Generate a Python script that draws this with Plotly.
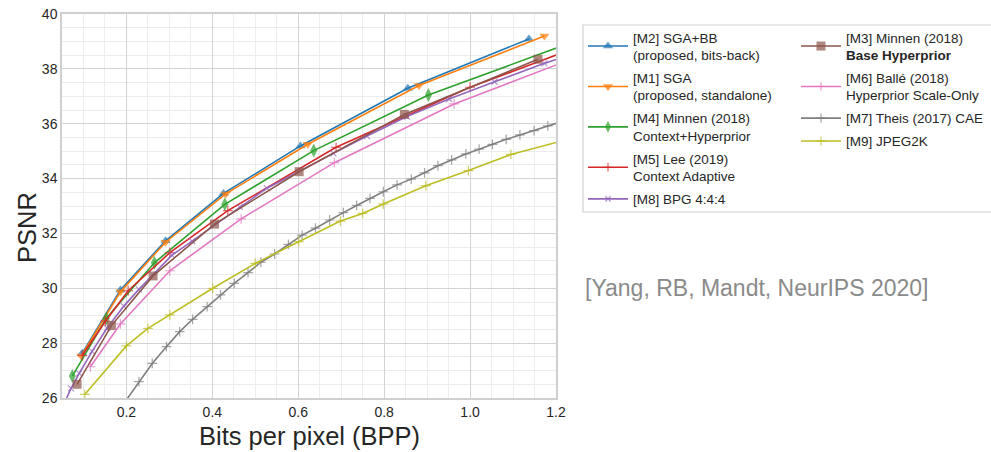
import plotly.graph_objects as go

# ---------------- data ----------------
m2_x = [0.097, 0.186, 0.291, 0.426, 0.605, 0.855, 1.137]
m2_y = [27.63, 29.94, 31.73, 33.46, 35.19, 37.29, 39.09]

m1_x = [0.095, 0.186, 0.291, 0.431, 0.622, 0.881, 1.173]
m1_y = [27.53, 29.87, 31.68, 33.44, 35.25, 37.39, 39.20]

m4_x = [0.074, 0.153, 0.265, 0.429, 0.636, 0.903, 1.25]
m4_y = [26.80, 28.90, 30.93, 33.06, 35.02, 37.05, 39.04]

m5_x = [0.097, 0.151, 0.204, 0.301, 0.436, 0.688, 1.000, 1.25]
m5_y = [27.55, 28.80, 29.91, 31.30, 32.83, 35.14, 37.33, 38.79]

m8_x = [0.055, 0.071, 0.090, 0.120, 0.155, 0.194, 0.229, 0.306, 0.353, 0.464,
        0.527, 0.682, 0.760, 0.853, 0.951, 1.057, 1.173, 1.25]
m8_y = [25.80, 26.35, 26.90, 27.70, 28.55, 29.35, 29.96, 31.21, 31.72, 32.97,
        33.65, 34.92, 35.55, 36.26, 36.90, 37.53, 38.20, 38.60]

m3_x = [0.085, 0.165, 0.262, 0.405, 0.602, 0.847, 1.158]
m3_y = [26.50, 28.64, 30.45, 32.34, 34.25, 36.34, 38.35]

m6_x = [0.116, 0.186, 0.301, 0.467, 0.684, 0.963, 1.25]
m6_y = [27.14, 28.70, 30.64, 32.53, 34.58, 36.72, 38.44]

m7_x = [0.185, 0.229, 0.260, 0.293, 0.324, 0.354, 0.388, 0.419, 0.451, 0.483,
        0.513, 0.545, 0.577, 0.609, 0.640, 0.673, 0.705, 0.736, 0.767, 0.798,
        0.830, 0.863, 0.894, 0.925, 0.957, 0.990, 1.021, 1.052, 1.084, 1.116,
        1.149, 1.181, 1.213]
m7_y = [25.60, 26.60, 27.26, 27.87, 28.42, 28.87, 29.33, 29.76, 30.18, 30.57,
        30.95, 31.25, 31.60, 31.94, 32.19, 32.49, 32.76, 33.02, 33.28, 33.52,
        33.77, 33.98, 34.21, 34.47, 34.68, 34.90, 35.07, 35.25, 35.43, 35.59,
        35.75, 35.92, 36.08]

m9_x = [0.103, 0.200, 0.250, 0.301, 0.401, 0.500, 0.601, 0.698, 0.750, 0.798,
        0.897, 0.996, 1.095, 1.25]
m9_y = [26.13, 27.90, 28.54, 29.03, 30.00, 30.91, 31.70, 32.45, 32.73, 33.07,
        33.74, 34.29, 34.88, 35.52]

x_ticks = [0.2, 0.4, 0.6, 0.8, 1.0, 1.2]
x_tick_labels = ["0.2", "0.4", "0.6", "0.8", "1.0", "1.2"]
y_ticks = [26, 28, 30, 32, 34, 36, 38, 40]

FONT = "Liberation Sans"
W, H = 991, 452
ML, MR, MT, MB = 62, 435, 14, 54
PW, PH = W - ML - MR, H - MT - MB


def px_x(p):
    return (p - ML) / PW


def px_y(p):
    return (H - MB - p) / PH


def cx(p):
    return p / W


def cy(p):
    return 1 - p / H


fig = go.Figure()


def sizes(n, s, hide_first=False, hide_last=False):
    arr = [s] * n
    if hide_first:
        arr[0] = 0
    if hide_last:
        arr[-1] = 0
    return arr


def add(x, y, name, color, symbol, size, legend, hf=False, hl=False, lw=None):
    mk = dict(symbol=symbol, size=sizes(len(x), size, hf, hl), color=color)
    if symbol.endswith("thin"):
        mk["line"] = dict(color=color, width=lw or 1.2)
    else:
        mk["line"] = dict(width=0)
    fig.add_trace(go.Scatter(
        x=x, y=y, name=name, mode="lines+markers", legend=legend,
        legendgroup=name,
        line=dict(color=color, width=1.6), marker=mk))


# column 1 legend
add(m2_x, m2_y, "[M2] SGA+BB<br>(proposed, bits-back)", "#1f77b4", "triangle-up", 9, "legend")
add(m1_x, m1_y, "[M1] SGA<br>(proposed, standalone)", "#ff7f0e", "triangle-down", 9, "legend")
add(m4_x, m4_y, "[M4] Minnen (2018)<br>Context+Hyperprior", "#2ca02c", "diamond-tall", 10, "legend", hl=True)
add(m5_x, m5_y, "[M5] Lee (2019)<br>Context Adaptive", "#d62728", "cross-thin", 7, "legend", hl=True)
add(m8_x, m8_y, "[M8] BPG 4:4:4", "#9467bd", "x-thin", 6, "legend", hf=True, hl=True)
# column 2 legend
add(m3_x, m3_y, "[M3] Minnen (2018)<br><b>Base Hyperprior</b>", "#8c564b", "square", 9, "legend2")
add(m6_x, m6_y, "[M6] Ballé (2018)<br>Hyperprior Scale-Only", "#e377c2", "cross-thin", 7, "legend2", hl=True)
add(m7_x, m7_y, "[M7] Theis (2017) CAE", "#7f7f7f", "cross-thin", 7, "legend2", hf=True, hl=True)
add(m9_x, m9_y, "[M9] JPEG2K", "#bcbd22", "cross-thin", 7, "legend2", hl=True)

axis_common = dict(
    showgrid=True, gridcolor="#d3d3d3", gridwidth=1,
    showline=True, mirror=True, linecolor="#cfcfcf", linewidth=1.5,
    ticks="", zeroline=False,
    tickfont=dict(family=FONT, size=14, color="#262626"),
)

fig.update_xaxes(range=[0.05, 1.2], tickvals=x_ticks, ticktext=x_tick_labels,
                 minor=dict(dtick=0.05, showgrid=True, gridcolor="#ececec", gridwidth=1),
                 **axis_common)
fig.update_yaxes(range=[26, 40], tickvals=y_ticks,
                 minor=dict(dtick=0.5, showgrid=True, gridcolor="#ececec", gridwidth=1),
                 **axis_common)

legend_common = dict(
    bgcolor="rgba(0,0,0,0)", borderwidth=0, itemwidth=40,
    font=dict(family=FONT, size=13.5, color="#262626"),
    xanchor="left", yanchor="top", tracegroupgap=2.3,
    xref="container", yref="container",
)

fig.update_layout(
    width=W, height=H,
    margin=dict(l=ML, r=MR, t=MT, b=MB, pad=0, autoexpand=False),
    plot_bgcolor="white", paper_bgcolor="white",
    showlegend=True,
    legend=dict(x=cx(583), y=cy(22), **legend_common),
    legend2=dict(x=cx(796), y=cy(22), **legend_common),
    shapes=[dict(type="rect", xref="paper", yref="paper",
                 x0=px_x(583), x1=px_x(995), y0=px_y(212), y1=px_y(25),
                 line=dict(color="#d0d0d0", width=1.2), fillcolor="rgba(0,0,0,0)")],
    annotations=[
        dict(text="Bits per pixel (BPP)", xref="paper", yref="paper",
             x=0.5, y=px_y(436), xanchor="center", yanchor="middle", showarrow=False,
             font=dict(family=FONT, size=25.5, color="#262626")),
        dict(text="PSNR", xref="paper", yref="paper", textangle=-90,
             x=px_x(27), y=px_y(228), xanchor="center", yanchor="middle", showarrow=False,
             font=dict(family=FONT, size=25.5, color="#262626")),
        dict(text="[Yang, RB, Mandt, NeurIPS 2020]", xref="paper", yref="paper",
             x=px_x(756), y=px_y(288), xanchor="center", yanchor="middle", showarrow=False,
             font=dict(family=FONT, size=23, color="#8a8a8a")),
    ],
)

fig.write_html("out.html")
